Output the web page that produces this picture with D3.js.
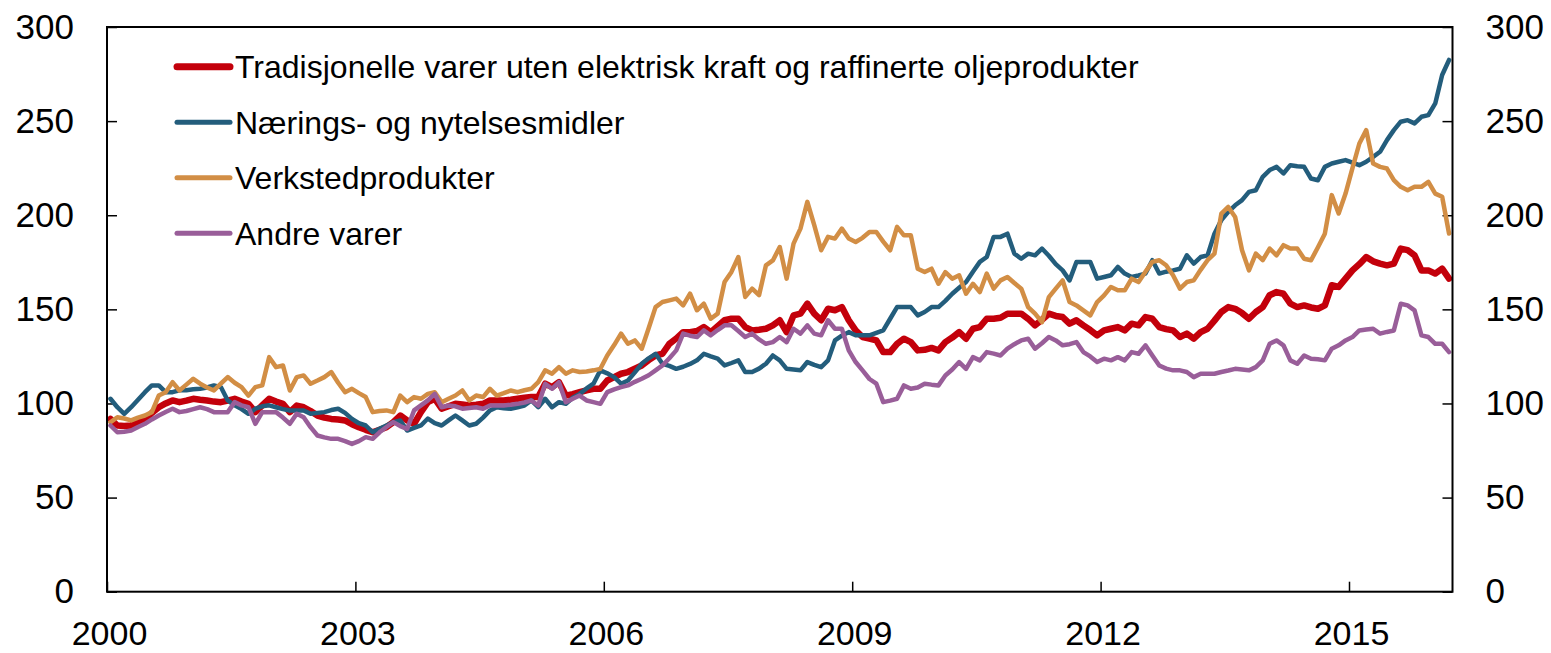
<!DOCTYPE html>
<html>
<head>
<meta charset="utf-8">
<script src="https://cdn.jsdelivr.net/npm/d3@7"></script>
<style>
  html, body { margin: 0; padding: 0; background: #fff; }
  svg { display: block; font-family: "Liberation Sans", Arial, sans-serif; }
</style>
</head>
<body>
<svg id="chart" width="1551" height="653"></svg>
<script>
// ---------- DATA (monthly, Jan 2000 – Mar 2016) ----------
const startYear = 2000;
const seriesNames = [
  "Tradisjonelle varer uten elektrisk kraft og raffinerte oljeprodukter",
  "Nærings- og nytelsesmidler",
  "Verkstedprodukter",
  "Andre varer"
];
const tradisjonelle = [
  91.8, 88.3, 88, 88.3, 90, 91, 95, 98, 100, 101.6, 100.7, 101.5,
  102.5, 102, 101.6, 101, 100.7, 101.5, 102.5, 101, 99.8, 95.4, 99, 102.5,
  101, 99.8, 95.4, 98.9, 98, 96, 93.6, 92.5, 91.8, 91.5, 91, 89,
  87.4, 86, 84.7, 86, 87.4, 90.1, 93.6, 91, 89.2, 95.4, 100.7, 102.5,
  97.2, 98.5, 99.8, 99.5, 98.9, 99.3, 99.8, 101.6, 101.6, 101.6, 102, 102.5,
  103, 103.4, 103.4, 110.5, 108.7, 111.3, 104.2, 105, 106, 107, 107.8, 107.8,
  112.2, 114, 115.8, 116.7, 118.5, 120.2, 123, 125.5, 126.4, 131.7, 134.5, 137.9,
  137.9, 138.5, 140.6, 137.9, 141, 144.2, 145, 145, 140.6, 138.8, 139.2, 139.7,
  141.5, 144.2, 137.9, 146.8, 147.7, 153, 147.7, 144.2, 150.3, 149.5, 151.2, 144.2,
  138.8, 135.3, 134.5, 133.5, 127.3, 127.3, 131.7, 134.4, 132.6, 128.2, 128.5, 129.5,
  128.2, 132.6, 135, 137.9, 134.4, 139.7, 140.6, 145, 145, 145.5, 147.7, 147.7,
  147.7, 145, 141.5, 144.5, 147.7, 146.5, 145.9, 142.4, 144.2, 141.5, 139, 136.2,
  138.8, 139.7, 140.6, 138.8, 142.4, 141.5, 145.9, 145, 140.6, 139.5, 138.8, 135.3,
  137.1, 134.4, 137.9, 139.7, 144, 148.6, 151.2, 150.3, 148, 145, 148.6, 151.2,
  157.5, 159.2, 158.3, 153, 151.2, 152.1, 151, 150.3, 152.1, 162.8, 161.9, 166.3,
  170.7, 174, 177.8, 175.5, 174.3, 173.4, 174.3, 182.3, 181.5, 178.7, 170.7, 170.7,
  169, 171.6, 166.3
];
const naeringsmidler = [
  102.5, 98, 94.5, 98, 102, 106, 109.6, 109.6, 106, 106, 107, 107,
  107.5, 107.8, 108.5, 109.6, 108.7, 101.6, 99, 97, 94.5, 97.2, 98.5, 99,
  98, 97, 96.3, 96.3, 96.3, 94.5, 95, 95.4, 96.5, 97.2, 95, 91.8,
  89.5, 88.3, 84.7, 86.5, 88.3, 90, 91, 85.6, 87, 88.3, 92, 89.5,
  88.3, 91, 93.6, 91, 88.3, 89.2, 92.5, 96.3, 98, 97.5, 97.2, 98,
  98.9, 101.6, 98, 102.5, 98, 100.7, 99.8, 103, 105.1, 108, 110.5, 117.6,
  116, 114, 110.5, 112.2, 116.5, 121.1, 124, 126.4, 121.1, 120, 118.4, 119.5,
  121, 122.9, 126.4, 125, 123.8, 120.2, 121.5, 122.9, 116.7, 116.7, 118.5, 121.1,
  125.5, 122.9, 118.4, 118, 117.6, 122, 120.5, 119.3, 122.9, 133.5, 136, 137.9,
  136.2, 136.2, 136.2, 137.5, 138.8, 145, 151.2, 151.2, 151.2, 146.8, 148.6, 151.2,
  151.2, 154.5, 158.3, 161.5, 164.5, 170, 175.2, 177.8, 188.5, 188.5, 190.2, 179.6,
  176.9, 179.6, 178.7, 182.3, 178.5, 174, 170.7, 165.4, 175.2, 175.2, 175.2, 166.3,
  167.2, 168.1, 172.5, 169, 167.2, 168, 169, 176.1, 169, 170, 170.7, 171.6,
  178.7, 174.3, 177.8, 178.7, 190.2, 197.4, 201.8, 205.3, 208, 212.4, 213.3, 220.4,
  224, 225.7, 222.2, 226.6, 226, 225.7, 219.5, 218.6, 225.7, 227.5, 228.4, 229.3,
  228, 226.6, 228.4, 231, 233.7, 239.9, 245.2, 249.7, 250.5, 248.8, 252.3, 253.2,
  259.4, 274.5, 282.5
];
const verkstedprodukter = [
  90, 92.7, 92, 91, 92.5, 93.6, 95.4, 104.2, 106, 111.3, 106.9, 110,
  113.1, 110.5, 108.5, 106.9, 110.5, 114, 111, 108.7, 104.2, 108.7, 109.6, 124.6,
  119.3, 120.2, 106.9, 114, 114.9, 110.5, 112.2, 114, 116.7, 111, 106, 107.8,
  105.5, 103.4, 95.4, 96, 96.3, 95.4, 104.2, 100.7, 103.4, 102.5, 105.1, 106,
  100.7, 102.5, 104.2, 106.9, 101.6, 104.2, 103.4, 107.8, 104.2, 105.5, 106.9, 106,
  107, 107.8, 111.3, 117.6, 115.8, 119.3, 115.8, 117.6, 116.7, 117, 117.6, 118.4,
  125.5, 131, 137.1, 131.7, 133.5, 129.1, 140, 151.2, 153.9, 154.8, 155.7, 152.1,
  158.3, 149.5, 153, 145, 147.7, 164.5, 169.9, 177.8, 156.6, 161, 157.5, 173.4,
  176, 183.1, 166.3, 184.9, 192.9, 207.1, 194.7, 181.4, 188.5, 187.6, 192.9, 187.6,
  185.8, 188, 191.1, 191.1, 186, 181.4, 193.8, 189.3, 189.3, 171.6, 169.8, 171.6,
  163.6, 169.8, 166.3, 168.1, 158.3, 163.6, 159.2, 169, 161, 165.4, 167.2, 164,
  161, 151.2, 147.7, 143.2, 156.5, 161, 165.4, 153.9, 152.1, 149.5, 146.8, 153.9,
  157.4, 161.9, 160.1, 160.1, 166.3, 164.5, 170, 175.2, 176.1, 173.4, 168.1, 161,
  164.5, 165.4, 171, 176.1, 179.6, 200.9, 204.4, 199.1, 181.4, 170.7, 179.6, 176.1,
  182.3, 178.7, 184.1, 182.3, 182.3, 176.9, 176.1, 183, 190.2, 210.7, 200.9, 211.5,
  225, 238.1, 245.2, 227.5, 225.7, 224.8, 218.6, 215.1, 213.3, 215.1, 215.1, 217.7,
  211.5, 209.8, 190.3
];
const andreVarer = [
  88.3, 84.7, 85, 85.6, 87.5, 89.2, 91.5, 93.6, 95.5, 97.2, 95.4, 96,
  97, 98, 97, 95.4, 95.4, 95.4, 100.7, 99, 98, 89.2, 95.4, 95.4,
  95.4, 92.5, 89.2, 94.5, 92.7, 87.4, 83, 82, 81.2, 81.2, 80, 78.5,
  80, 82.1, 81.2, 84.7, 87.5, 90.1, 88, 86.5, 96.3, 99, 101.6, 105.1,
  98, 98.9, 98.5, 97.2, 97.6, 98, 97.2, 98.9, 98.9, 98.9, 99.3, 99.8,
  100.5, 101.6, 98.9, 110.5, 107.8, 111.3, 100.7, 102.5, 104.2, 101.6, 100.7, 99.8,
  106, 107.5, 108.7, 109.6, 111.5, 113.1, 115, 117.6, 120.2, 124, 128.2, 137.1,
  136, 135.3, 138.8, 136.2, 139, 141.5, 141.5, 138.5, 135.3, 137.1, 134, 131.7,
  132.6, 135.3, 132.6, 139.7, 137.1, 141.5, 137.1, 136.2, 144.2, 139.7, 139.7, 128.2,
  122, 117.6, 113, 110.5, 100.7, 101.5, 102.5, 109.6, 107.8, 108.5, 110.5, 110,
  109.6, 114.9, 118, 122, 118.4, 124.6, 122.9, 127.3, 126.5, 125.5, 129.1, 131.5,
  133.5, 134.4, 129.1, 132, 135.3, 133.5, 130.9, 131.5, 132.6, 127.3, 125, 122,
  123.8, 122.9, 124.6, 122.9, 127.3, 126.4, 130.9, 125.5, 120.2, 118.5, 117.6, 117.6,
  116.7, 114, 115.8, 115.8, 115.8, 116.7, 117.5, 118.4, 118, 117.6, 119.3, 122.9,
  131.7, 133.5, 130.9, 122.9, 121.1, 125.5, 123.8, 123.5, 122.9, 129.1, 130.9, 133.5,
  135.3, 138.8, 139.3, 139.7, 137.1, 138, 138.8, 153, 152.1, 149.5, 136.2, 135.3,
  131.7, 131.7, 127.3
];
const yTicks = [0, 50, 100, 150, 200, 250, 300];
const xTicks = [2000, 2003, 2006, 2009, 2012, 2015];
const xDomain = [2000, 2016.25];
const yDomain = [0, 300];

// ---------- STYLE ----------
const colors = ["#c3000b", "#235d7c", "#d28e45", "#995e99"];
const widths = [6.5, 4.5, 4.5, 4.5];
const seriesData = [tradisjonelle, naeringsmidler, verkstedprodukter, andreVarer];

const L = 107, R = 1452.5, T = 27, B = 591.7;
const svg = d3.select("#chart");
const x = d3.scaleLinear().domain(xDomain).range([L, R]);
const y = d3.scaleLinear().domain(yDomain).range([B, T]);

function styleAxis(g, fs) {
  g.select(".domain").remove();
  g.selectAll(".tick line").attr("stroke", "#000").attr("stroke-width", 1.5);
  g.selectAll(".tick text").attr("fill", "#000").style("font-size", fs + "px")
    .style("font-family", '"Liberation Sans", Arial, sans-serif');
}

svg.append("g").attr("transform", `translate(${L},0)`)
  .call(d3.axisLeft(y).tickValues(yTicks).tickSize(-10).tickPadding(33).tickFormat(d3.format("d")))
  .call(g => styleAxis(g, 35));
svg.append("g").attr("transform", `translate(${R},0)`)
  .call(d3.axisRight(y).tickValues(yTicks).tickSize(-10).tickPadding(33).tickFormat(d3.format("d")))
  .call(g => styleAxis(g, 35));
const xAxisG = svg.append("g").attr("transform", `translate(0,${B})`)
  .call(d3.axisBottom(x).tickValues(xTicks).tickSize(-10).tickPadding(29).tickFormat(d3.format("d")))
  .call(g => styleAxis(g, 34));
xAxisG.selectAll(".tick text").attr("dx", 2).attr("dy", "0.71em");

// lines
const line = d3.line()
  .x((d, i) => x(startYear + (i + 0.5) / 12))
  .y(d => y(d))
  .curve(d3.curveLinear);

svg.append("g").selectAll("path")
  .data(seriesData)
  .join("path")
  .attr("d", d => line(d))
  .attr("fill", "none")
  .attr("stroke", (d, i) => colors[i])
  .attr("stroke-width", (d, i) => widths[i])
  .attr("stroke-linejoin", "round")
  .attr("stroke-linecap", "round");

// frame
svg.append("rect")
  .attr("x", L).attr("y", T)
  .attr("width", R - L).attr("height", B - T)
  .attr("fill", "none").attr("stroke", "#000").attr("stroke-width", 2);

// legend
const lg = svg.append("g").selectAll("g")
  .data(seriesNames)
  .join("g")
  .attr("transform", (d, i) => `translate(0,${66.7 + i * 55.5})`);
lg.append("line")
  .attr("x1", 177).attr("x2", 230).attr("y1", 0).attr("y2", 0)
  .attr("stroke", (d, i) => colors[i])
  .attr("stroke-width", (d, i) => widths[i] + 0.5)
  .attr("stroke-linecap", "round");
lg.append("text")
  .attr("x", 235).attr("y", 0).attr("dy", "0.36em")
  .style("font-size", "32px").attr("fill", "#000")
  .text(d => d);
</script>
</body>
</html>
